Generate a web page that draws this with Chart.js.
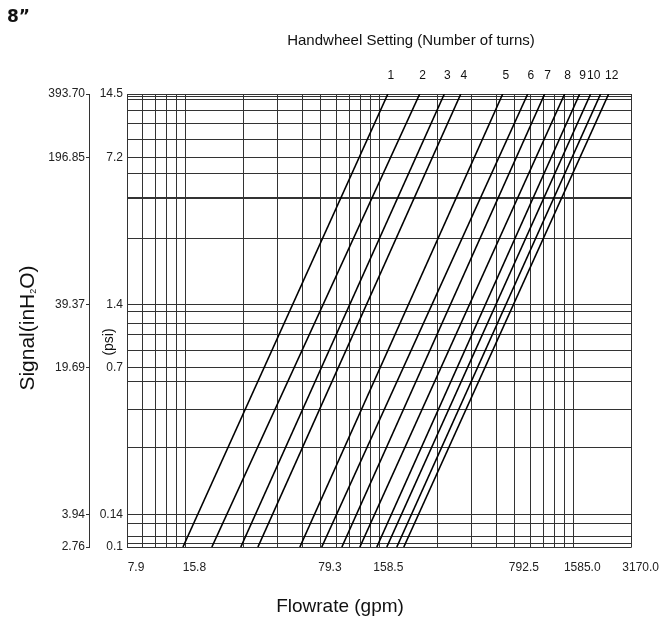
<!DOCTYPE html>
<html>
<head>
<meta charset="utf-8">
<title>8" handwheel flow chart</title>
<script src="https://cdn.jsdelivr.net/npm/chart.js@4.4.0/dist/chart.umd.min.js"></script>
<style>
  body { margin: 0; background: #fff; }
  #wrap { width: 663px; height: 623px; }
</style>
</head>
<body>
<div id="wrap"><canvas id="flowChart" width="663" height="623"></canvas></div>
<script>
// one line per handwheel setting (11 is not labelled on the original sheet)
const turnLabels = ['1', '2', '3', '4', '5', '6', '7', '8', '9', '10', '', '12'];
// flowrate (gpm) where each line leaves the bottom / reaches the top of the grid
const flowAtMin = [15.4, 21.7, 30.6, 37.5, 61.7, 80.0, 101.6, 125.8, 153.8, 173.2, 195, 211.9];
const flowAtMax = [175.4, 256, 343, 417, 686, 923, 1129, 1431, 1710, 1948, 2193, 2413];
const signalEnds = [2.756, 393.70]; // inH2O

// x grid (gpm) and labelled ticks
const flowGrid = [7.925, 9.51, 11.1, 12.68, 14.27, 15.85, 31.7, 47.55, 63.4, 79.25, 95.1, 110.95,
  126.8, 142.65, 158.5, 317, 475.5, 634, 792.5, 951, 1109.5, 1268, 1426.5, 1585, 3170];
const flowTicks = [7.925, 15.85, 79.25, 158.5, 792.5, 1585, 3170];
const flowTickLabels = ['7.9', '15.8', '79.3', '158.5', '792.5', '1585.0', '3170.0'];

// y grid (inH2O) and labelled ticks, inH2O outside, psi inside
const signalGrid = [2.756, 2.85, 3.1, 3.55, 3.937, 8.2, 12.4, 16.8, 19.69, 23.8, 28.4, 32.0, 36.5,
  39.37, 80.5, 125, 127, 164, 196.85, 240, 286, 327, 369, 381, 393.70];
const signalTicks = [2.756, 3.937, 19.69, 39.37, 196.85, 393.70];
const signalTickLabels = ['2.76', '3.94', '19.69', '39.37', '196.85', '393.70'];
const psiTickLabels = ['0.1', '0.14', '0.7', '1.4', '7.2', '14.5'];

const gridColor = '#333';
const tickFont = { family: 'Liberation Sans', size: 12 };

const datasets = flowAtMin.map(function (f, i) {
    return {
        label: turnLabels[i] || '11',
        data: [{ x: f, y: signalEnds[0] }, { x: flowAtMax[i], y: signalEnds[1] }],
        borderColor: '#000',
        borderWidth: 1.6,
        pointRadius: 0,
        fill: false,
        tension: 0
    };
});

function drawSignalTitle(ctx, cx, cy) {
    ctx.save();
    ctx.translate(cx, cy);
    ctx.rotate(-Math.PI / 2);
    ctx.textAlign = 'left';
    ctx.textBaseline = 'alphabetic';
    const big = '21px "Liberation Sans"';
    const small = '9px "Liberation Sans"';
    ctx.font = big;
    const w1 = ctx.measureText('Signal(inH').width;
    const w3 = ctx.measureText('O)').width;
    ctx.font = small;
    const w2 = ctx.measureText('2').width;
    let x = -(w1 + w2 + w3) / 2;
    ctx.font = big;
    ctx.fillText('Signal(inH', x, 7);
    x += w1;
    ctx.font = small;
    ctx.fillText('2', x, 9);
    x += w2;
    ctx.font = big;
    ctx.fillText('O)', x, 7);
    ctx.restore();
}

const textPlugin = {
    id: 'sheetText',
    afterDraw: function (chart) {
        const ctx = chart.ctx;
        const area = chart.chartArea;
        ctx.save();
        ctx.fillStyle = '#111';
        ctx.textBaseline = 'middle';

        ctx.textAlign = 'left';
        ctx.font = 'bold 17px "DejaVu Sans"';
        ctx.fillText('8\u201d', 7, 18);

        ctx.textAlign = 'center';
        ctx.font = '15px "Liberation Sans"';
        ctx.fillText('Handwheel Setting (Number of turns)', 411, 41);

        // turn numbers above where each line meets the top
        ctx.font = '12px "Liberation Sans"';
        chart.data.datasets.forEach(function (ds, i) {
            const pts = chart.getDatasetMeta(i).data;
            const top = pts[pts.length - 1];
            if (turnLabels[i]) {
                ctx.fillText(turnLabels[i], top.x + 3, area.top - 18);
            }
        });

        ctx.font = '19px "Liberation Sans"';
        ctx.fillText('Flowrate (gpm)', 340, 607);

        drawSignalTitle(ctx, 27, 328);

        ctx.save();
        ctx.translate(109, 342);
        ctx.rotate(-Math.PI / 2);
        ctx.font = '14px "Liberation Sans"';
        ctx.fillText('(psi)', 0, 0);
        ctx.restore();

        ctx.restore();
    }
};

new Chart(document.getElementById('flowChart').getContext('2d'), {
    type: 'line',
    data: { datasets: datasets },
    plugins: [textPlugin],
    options: {
        responsive: false,
        animation: false,
        layout: { padding: { top: 94, right: 31, bottom: 0, left: 0 } },
        plugins: {
            legend: { display: false },
            tooltip: { enabled: false }
        },
        scales: {
            x: {
                type: 'logarithmic',
                position: 'bottom',
                min: flowGrid[0],
                max: flowGrid[flowGrid.length - 1],
                afterBuildTicks: function (s) {
                    s.ticks = flowGrid.map(function (v) { return { value: v }; });
                },
                afterFit: function (s) { s.height = 76; },
                grid: { color: gridColor, lineWidth: 1, drawTicks: false },
                border: { display: false },
                ticks: {
                    autoSkip: false,
                    maxRotation: 0,
                    minRotation: 0,
                    padding: 13,
                    labelOffset: 9,
                    color: '#222',
                    font: tickFont,
                    callback: function (v) {
                        const i = flowTicks.indexOf(v);
                        return i < 0 ? '' : flowTickLabels[i];
                    }
                }
            },
            y: {
                type: 'logarithmic',
                position: 'left',
                weight: 0,
                min: signalEnds[0],
                max: signalEnds[1],
                afterBuildTicks: function (s) {
                    s.ticks = signalGrid.map(function (v) { return { value: v }; });
                },
                afterFit: function (s) { s.width = 38; },
                grid: { color: gridColor, lineWidth: 1, drawTicks: false },
                border: { display: false },
                ticks: {
                    autoSkip: false,
                    padding: 4,
                    color: '#222',
                    font: tickFont,
                    callback: function (v) {
                        const i = signalTicks.indexOf(v);
                        return i < 0 ? '' : psiTickLabels[i];
                    }
                }
            },
            yIn: {
                type: 'logarithmic',
                position: 'left',
                weight: 1,
                min: signalEnds[0],
                max: signalEnds[1],
                afterBuildTicks: function (s) {
                    s.ticks = signalTicks.map(function (v) { return { value: v }; });
                },
                afterFit: function (s) { s.width = 89; },
                grid: { drawOnChartArea: false, drawTicks: true, tickLength: 3, color: '#333' },
                border: { display: true, color: '#333', width: 1 },
                ticks: {
                    autoSkip: false,
                    padding: 1,
                    color: '#222',
                    font: tickFont,
                    callback: function (v) {
                        const i = signalTicks.indexOf(v);
                        return i < 0 ? '' : signalTickLabels[i];
                    }
                }
            }
        }
    }
});
</script>
</body>
</html>
